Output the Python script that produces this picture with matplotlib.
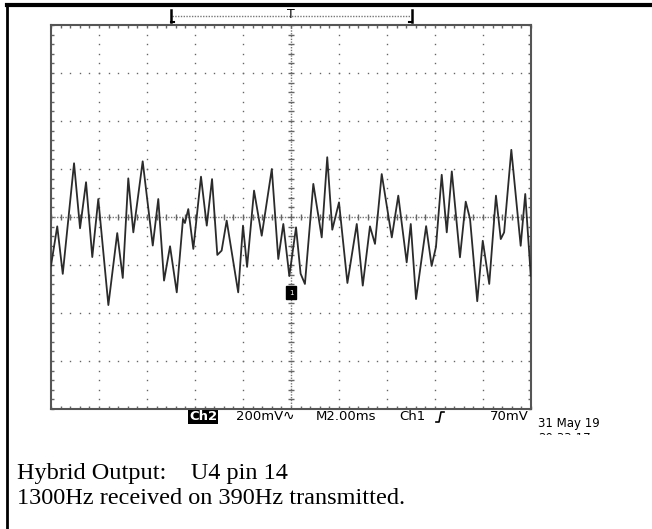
import matplotlib
matplotlib.use("Agg")
import matplotlib.pyplot as plt
from matplotlib.lines import Line2D
from matplotlib.patches import Rectangle
import numpy as np

# Trace: time (ms) and Ch2 voltage (mV)
t_ms = [0.00, 0.26, 0.49, 0.96, 1.21, 1.46, 1.72, 1.97, 2.39, 2.76,
        2.99, 3.22, 3.43, 3.82, 4.24, 4.47, 4.71, 4.96, 5.24, 5.50,
        5.58, 5.72, 5.93, 6.25, 6.49, 6.71, 6.93, 7.11, 7.32, 7.80,
        8.00, 8.17, 8.46, 8.78, 9.20, 9.47, 9.68, 9.93, 10.21, 10.40,
        10.58, 10.93, 11.28, 11.51, 11.72, 12.00, 12.35, 12.74, 12.99, 13.29,
        13.50, 13.78, 14.20, 14.47, 14.82, 14.99, 15.21, 15.63, 15.86, 16.04,
        16.28, 16.49, 16.70, 17.04, 17.28, 17.46, 17.76, 17.99, 18.26, 18.54,
        18.74, 18.88, 19.18, 19.57, 19.76, 19.99]
v_mv = [-203, -39, -237, 224, -47, 145, -167, 75, -367, -67,
        -254, 161, -64, 232, -119, 75, -265, -122, -314, -8,
        -25, 33, -133, 168, -36, 158, -158, -140, -15, -314,
        -36, -208, 110, -78, 200, -175, -29, -246, -43, -236,
        -279, 138, -85, 249, -53, 61, -275, -29, -286, -39,
        -112, 179, -85, 89, -189, -29, -342, -38, -204, -125,
        176, -64, 190, -168, 64, -8, -351, -99, -279, 89,
        -92, -64, 280, -120, 96, -245]

ms_per_div = 2.0
mv_per_div = 200.0
n_xdiv = 10
n_ydiv = 8

W, H = 652, 529
fig = plt.figure(figsize=(W / 100, H / 100), dpi=100)


def fx(x):
    return x / W


def fy(y):
    return 1 - y / H


# screen area
ax = fig.add_axes([fx(51), fy(409), 480 / W, 384 / H])
xmax = ms_per_div * n_xdiv
ymax = mv_per_div * n_ydiv / 2
ax.set_xlim(0, xmax)
ax.set_ylim(-ymax, ymax)

# graticule dots on major lines
grid_col = '#666666'
xs_minor = np.arange(0, xmax + 1e-9, ms_per_div / 5)
ys_minor = np.arange(-ymax, ymax + 1e-9, mv_per_div / 5)
for i in range(1, n_xdiv):
    if i == n_xdiv // 2:
        continue
    ax.plot([i * ms_per_div] * len(ys_minor), ys_minor, ls='none', marker='s',
            ms=1.0, color=grid_col, mec='none')
for j in range(1, n_ydiv):
    if j == n_ydiv // 2:
        continue
    yv = -ymax + j * mv_per_div
    ax.plot(xs_minor, [yv] * len(xs_minor), ls='none', marker='s',
            ms=1.0, color=grid_col, mec='none')

# centre cross: dense dots plus small ticks
ax.axvline(xmax / 2, color='#777777', lw=1.0, ls=(0, (1, 1)))
ax.axhline(0, color='#777777', lw=1.0, ls=(0, (1, 1)))
ax.plot([xmax / 2] * len(ys_minor), ys_minor, ls='none', marker='_',
        ms=4, mew=1.0, color=grid_col)
ax.plot(xs_minor, [0] * len(xs_minor), ls='none', marker='|',
        ms=4, mew=1.0, color=grid_col)

# edge ticks
ax.set_xticks(np.arange(0, xmax + 1e-9, ms_per_div))
ax.set_xticks(xs_minor, minor=True)
ax.set_yticks(np.arange(-ymax, ymax + 1e-9, mv_per_div))
ax.set_yticks(ys_minor, minor=True)
ax.tick_params(which='both', direction='in', length=2.5, width=1.0,
               color=grid_col, top=True, right=True,
               labelbottom=False, labelleft=False)
for s in ax.spines.values():
    s.set_color('#555555')
    s.set_linewidth(1.5)

# waveform
ax.plot(t_ms, v_mv, color='#2b2b2b', lw=1.3, zorder=5)

# channel ground marker
ax.add_patch(Rectangle((9.8, -342), 0.42, 55, color='black', zorder=6))
ax.text(10.01, -315, '1', color='white', fontsize=5, ha='center',
        va='center', zorder=7)

# record / trigger indicator above the screen
ic = 'black'
fig.add_artist(Line2D([fx(172), fx(410)], [fy(16), fy(16)],
                      color='#777777', lw=1.0, ls=(0, (1, 1))))
fig.add_artist(Line2D([fx(171), fx(171)], [fy(10), fy(22)], color=ic, lw=1.8))
fig.add_artist(Line2D([fx(171), fx(174)], [fy(22), fy(22)], color=ic, lw=1.5))
fig.add_artist(Line2D([fx(412), fx(412)], [fy(10), fy(22)], color=ic, lw=1.8))
fig.add_artist(Line2D([fx(409), fx(412)], [fy(22), fy(22)], color=ic, lw=1.5))
fig.text(fx(291), fy(15), 'T', fontsize=9, ha='center', va='center',
         family='DejaVu Sans')

# status line below the screen
st = dict(fontsize=9.5, va='center', family='DejaVu Sans', color='black')
fig.text(fx(189), fy(417), 'Ch2', color='white', fontweight='bold',
         fontsize=9.5, va='center', family='DejaVu Sans',
         bbox=dict(facecolor='black', edgecolor='none', pad=0.6))
fig.text(fx(236), fy(417), '200mV', **st)
fig.text(fx(283), fy(416), '∿', fontsize=10, va='center',
         family=['DejaVu Sans', 'Noto Sans'])
fig.text(fx(316), fy(417), 'M2.00ms', **st)
fig.text(fx(399), fy(417), 'Ch1', **st)
fig.add_artist(Line2D([fx(436), fx(439), fx(441), fx(444)],
                      [fy(422), fy(422), fy(412), fy(412)], color='black', lw=1.2))
fig.text(fx(529), fy(417), '70mV', ha='right', **dict(st, va='center'))
fig.text(fx(538), fy(423), '31 May 19', fontsize=8.5, va='center',
         family='DejaVu Sans')
fig.text(fx(538), fy(438), '20:33:17', fontsize=8.5, va='center',
         family='DejaVu Sans')
cover = Rectangle((fx(530), fy(470)), fx(120), fy(435) - fy(470),
                  transform=fig.transFigure, color='white', zorder=20)
fig.add_artist(cover)

# caption
cap = dict(fontsize=17.5, family='Liberation Serif', va='center')
fig.text(fx(17), fy(474), 'Hybrid Output:    U4 pin 14', zorder=25, **cap)
fig.text(fx(17), fy(498), '1300Hz received on 390Hz transmitted.', zorder=25, **cap)

# outer frame
fig.add_artist(Line2D([fx(7), fx(651)], [fy(5), fy(5)], color='black', lw=3))
fig.add_artist(Line2D([fx(7), fx(7)], [fy(5), fy(529)], color='black', lw=2))

fig.savefig('out.png', dpi=100)
